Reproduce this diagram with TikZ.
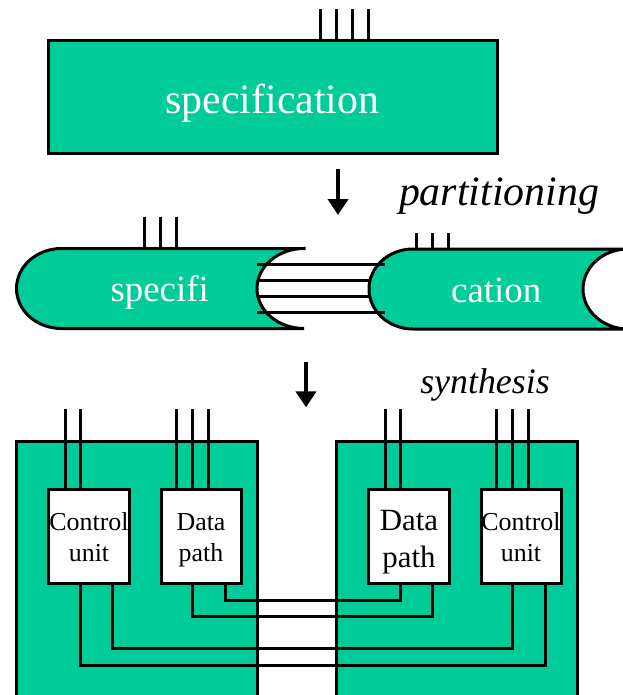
\documentclass[tikz,border=0pt]{standalone}
\usepackage{fontspec}
\setmainfont{Liberation Serif}
\usetikzlibrary{arrows.meta}
\definecolor{chipgreen}{RGB}{0,204,153}
\begin{document}
\begin{tikzpicture}[x=1bp,y=-1bp,
  wire/.style={line width=3bp},
  greenbox/.style={draw, fill=chipgreen, line width=3bp, inner sep=0pt, outer sep=0pt},
  unitbox/.style={draw, fill=white, line width=3bp, inner sep=0pt, outer sep=0pt,
    minimum height=94.5bp},
  pill/.style={draw, fill=chipgreen, line width=3bp},
  stepdown/.style={line width=4.5bp, -{Triangle[width=20bp,length=16bp]}},
  whitelabel/.style={anchor=base, inner sep=0pt, text=white},
  blacklabel/.style={anchor=base, inner sep=0pt, text=black},
  biglabel/.style={font=\fontsize{42}{50}\selectfont},
  pilllabel/.style={font=\fontsize{37}{44}\selectfont},
  steplabel/.style={anchor=base, inner sep=0pt}
]
\useasboundingbox (0,0) rectangle (623,695);
\clip (0,0) rectangle (623,695);

% ---- whole specification ----
\node[greenbox, minimum width=448bp, minimum height=112bp] (spec) at (273,97) {};
\node[whitelabel, biglabel] (specT) at (272.5,113.3) {specification};
\foreach \dx in {271.7,287.7,303.3,319.7}
  \draw[wire] ([xshift=\dx bp]spec.north west) -- ++(0,-32);

% ---- partitioning step ----
\coordinate (p1) at (338,169);
\coordinate (p2) at (338,215);
\draw[stepdown] (p1) -- (p2);
\node[steplabel, font=\itshape\fontsize{42}{50}\selectfont] (partT) at (499,205) {partitioning};

% left part: round left end, hollow right end
\path[pill] (304,248.5) -- (61.5,248.5)
  arc[start angle=90, end angle=270, x radius=45bp, y radius=40bp]
  -- (304,328.5)
  arc[start angle=270, end angle=90, x radius=47bp, y radius=40bp] -- cycle;
% right part
\path[pill] (628,249) -- (413,249)
  arc[start angle=90, end angle=270, x radius=44bp, y radius=40bp]
  -- (628,329)
  arc[start angle=270, end angle=90, x radius=45bp, y radius=40bp] -- cycle;

\node[whitelabel, pilllabel] (leftT) at (159.7,301.7) {specifi};
\node[whitelabel, pilllabel] (rightT) at (496.2,302.3) {cation};

% leads on top of the parts
\foreach \x in {144.3,160,176}
  \draw[wire] (\x,216.7) -- (\x,248.5);
\foreach \x in {416.7,432.7,448.3}
  \draw[wire] (\x,233.3) -- (\x,249);

% links between the two parts
\coordinate (l1a) at (257,264.3); \coordinate (l1b) at (385,264.3);
\coordinate (l2a) at (257.8,280.7); \coordinate (l2b) at (370,280.7);
\coordinate (l3a) at (257.8,296.7); \coordinate (l3b) at (370,296.7);
\coordinate (l4a) at (257,312.3); \coordinate (l4b) at (385,312.3);
\draw[wire] (l1a) -- (l1b);
\draw[wire] (l2a) -- (l2b);
\draw[wire] (l3a) -- (l3b);
\draw[wire] (l4a) -- (l4b);

% ---- synthesis step ----
\coordinate (s1) at (306,361.7);
\coordinate (s2) at (306,407.3);
\draw[stepdown] (s1) -- (s2);
\node[steplabel, font=\itshape\fontsize{36}{43}\selectfont] (synT) at (485,393.3) {synthesis};

% chips
\node[greenbox, minimum width=240bp, minimum height=279bp] (chipL) at (137,580.5) {};
\node[greenbox, minimum width=240.5bp, minimum height=279bp] (chipR) at (456.75,580.5) {};

% units inside the chips
\node[unitbox, minimum width=80.5bp] (cuL) at (88.75,536.25) {};
\node[unitbox, minimum width=80bp] (dpL) at (201,536.25) {};
\node[unitbox, minimum width=80.5bp] (dpR) at (408.75,536.25) {};
\node[unitbox, minimum width=80bp] (cuR) at (521,536.25) {};

\begin{scope}[font=\fontsize{26}{31}\selectfont]
  \node[blacklabel] (cuL1) at (89,530.7) {Control};
  \node[blacklabel] (cuL2) at (89,561.7) {unit};
  \node[blacklabel] (dpL1) at (201,530.7) {Data};
  \node[blacklabel] (dpL2) at (201,561.7) {path};
  \node[blacklabel] (cuR1) at (521,530.7) {Control};
  \node[blacklabel] (cuR2) at (521,561.7) {unit};
\end{scope}
\begin{scope}[font=\fontsize{31}{37}\selectfont]
  \node[blacklabel] (dpR1) at (409,530) {Data};
  \node[blacklabel] (dpR2) at (409,567.3) {path};
\end{scope}

% external leads of the units
\foreach \dx in {16.5,32.2}
  \draw[wire] ([xshift=\dx bp]cuL.north west) -- ++(0,-80);
\foreach \dx in {15.7,31.7,47.5}
  \draw[wire] ([xshift=\dx bp]dpL.north west) -- ++(0,-80);
\foreach \dx in {16.5,32.2}
  \draw[wire] ([xshift=\dx bp]dpR.north west) -- ++(0,-80);
\foreach \dx in {15.7,31.7,47.4}
  \draw[wire] ([xshift=\dx bp]cuR.north west) -- ++(0,-80);

% wiring between the chips
\draw[wire] ([xshift=64bp]dpL.south west) -- ++(0,17.2) -| ([xshift=32.2bp]dpR.south west);
\draw[wire] ([xshift=31.7bp]dpL.south west) -- ++(0,33.2) -| ([xshift=64.2bp]dpR.south west);
\draw[wire] ([xshift=64.2bp]cuL.south west) -- ++(0,64.8) -| ([xshift=31.7bp]cuR.south west);
\draw[wire] ([xshift=32.2bp]cuL.south west) -- ++(0,81.5) -| ([xshift=64bp]cuR.south west);
\end{tikzpicture}
\end{document}
